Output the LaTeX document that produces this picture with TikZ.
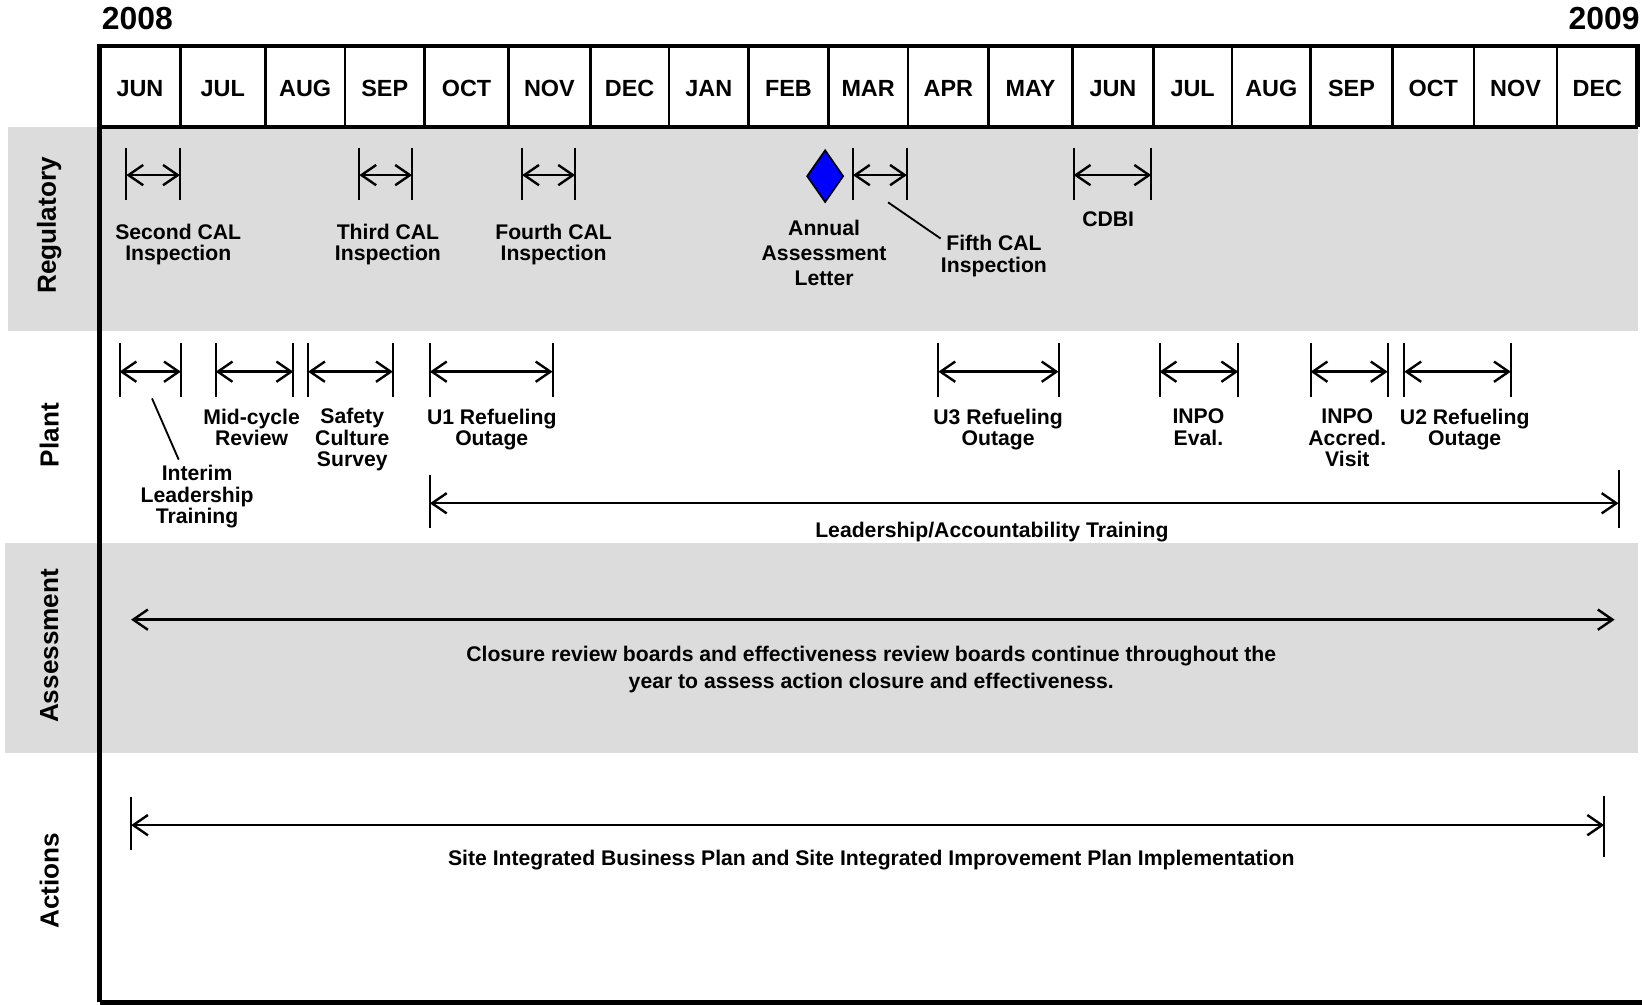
\documentclass[tikz,border=0pt]{standalone}
\usepackage{fontspec}
\setmainfont{Liberation Sans}
\usetikzlibrary{arrows.meta,shapes.geometric}
\definecolor{bandgray}{RGB}{220,220,220}
\definecolor{markblue}{RGB}{0,0,255}

\begin{document}
\begin{tikzpicture}[x=0.02cm,y=-0.02cm,
  year/.style={font=\fontsize{17.3}{18}\selectfont\bfseries},
  month/.style={font=\fontsize{12.7}{13}\selectfont\bfseries},
  side/.style={rotate=90,font=\fontsize{14.2}{15}\selectfont\bfseries},
  lbl/.style={align=center,inner sep=0pt,font=\fontsize{11.5}{11.7}\selectfont\bfseries},
  band/.style={fill=bandgray,draw=none},
  bar/.style={line width=1.1pt},
  span/.style={line width=1.3pt,>={Straight Barb[length=8pt,width=11pt]},<->},
  lead/.style={line width=1pt}]
\useasboundingbox (0,0) rectangle (1568,958);

% bands
\fill[band] (8,121) rectangle (1562,316);
\fill[band] (5,518) rectangle (1562,718);

% frame and months
\draw[line width=2.5pt] (95,956) -- (95,44) -- (1562,44) -- (1562,121);
\draw[line width=2pt] (95,121) -- (1562,121);
\draw[line width=2.5pt] (95,956) -- (1566,956);
\foreach \x in {172,253,329,405,485,563,638,714,790,866,943,1023,1100,1175,1250,1328,1406,1485}
  \draw[line width=1.4pt] (\x,44) -- (\x,121);
\foreach \m/\a/\b [count=\i] in {JUN/95/172, JUL/172/253, AUG/253/329, SEP/329/405,
    OCT/405/485, NOV/485/563, DEC/563/638, JAN/638/714, FEB/714/790, MAR/790/866,
    APR/866/943, MAY/943/1023, JUN/1023/1100, JUL/1100/1175, AUG/1175/1250,
    SEP/1250/1328, OCT/1328/1406, NOV/1406/1485, DEC/1485/1562}
  \node at ({(\a+\b)/2},84) [month] (m\i) {\m};
\node at (131,18) [year] (y1) {2008};
\node at (1530,18) [year] (y2) {2009};

% row titles
\node at (47,215) [side] (reg) {Regulatory};
\node at (47,415) [side] (plant) {Plant};
\node at (47,616) [side] (assess) {Assessment};
\node at (47,840) [side] (act) {Actions};

% regulatory
\foreach \nm/\a/\b in {cal2/120.5/171.6, cal3/342.7/393, cal4/498/548.5, cal5/813.5/865, cdbi/1024/1098} {
  \draw[bar] (\a,141) -- (\a,191) (\b,141) -- (\b,191);
  \coordinate (\nm-l) at (\a,167);
  \coordinate (\nm-r) at (\b,167);
  \draw[span] (\nm-l) -- (\nm-r);
}
\node at (787,168) [diamond,aspect=0.7,draw,fill=markblue,line width=0.9pt,
  minimum width=0.7cm,minimum height=1cm,inner sep=0pt] (aal-mark) {};
\node at (170,233) [lbl] (cal2t) {Second CAL\\Inspection};
\node at (370,233) [lbl] (cal3t) {Third CAL\\Inspection};
\node at (528,233) [lbl] (cal4t) {Fourth CAL\\Inspection};
\node at (786,241) [lbl,font=\fontsize{11.5}{13.6}\selectfont\bfseries] (aalt) {Annual\\Assessment\\Letter};
\node at (948,244) [lbl] (cal5t) {Fifth CAL\\Inspection};
\node at (1057,209) [lbl] (cdbit) {CDBI};
\coordinate (cal5-lead) at (847,193);
\draw[lead] (cal5-lead) -- ([yshift=-2pt]cal5t.north west);

% plant
\foreach \nm/\a/\b in {ilt/114/172.5, mcr/205.7/279.7, scs/293.8/374.7, u1/410/527,
    u3/895/1009.6, eval/1106/1181, accr/1250/1323.5, u2/1339.4/1441} {
  \draw[bar] (\a,327) -- (\a,378.5) (\b,327) -- (\b,378.5);
  \coordinate (\nm-l) at (\a,354.5);
  \coordinate (\nm-r) at (\b,354.5);
  \draw[span] (\nm-l) -- (\nm-r);
}
\node at (240,407.5) [lbl] (mcrt) {Mid-cycle\\Review};
\node at (336,419.5) [lbl] (scst) {Safety\\Culture\\Survey};
\node at (469,409.5) [lbl] (u1t) {U1 Refueling\\Outage};
\node at (952,409.5) [lbl] (u3t) {U3 Refueling\\Outage};
\node at (1143,407.5) [lbl] (evalt) {INPO\\Eval.};
\node at (1285,417.5) [lbl] (accrt) {INPO\\Accred.\\Visit};
\node at (1397,409.5) [lbl] (u2t) {U2 Refueling\\Outage};
\node at (188,474) [lbl] (iltt) {Interim\\Leadership\\Training};
\coordinate (ilt-lead) at (145,380);
\draw[lead] (ilt-lead) -- ([xshift=-10pt,yshift=3pt]iltt.north);
\draw[bar] (410,453) -- (410,504) (1543.7,448) -- (1543.7,504);
\coordinate (lat-l) at (410,480);
\coordinate (lat-r) at (1543.7,480);
\draw[span] (lat-l) -- (lat-r);
\node at (946,507) [lbl] (latt) {Leadership/Accountability Training};

% assessment
\coordinate (crb-l) at (125,591);
\coordinate (crb-r) at (1540,591);
\draw[span] (crb-l) -- (crb-r);
\node at (831,638.5) [lbl,font=\fontsize{11.5}{14.2}\selectfont\bfseries] (crbt)
  {Closure review boards and effectiveness review boards continue throughout the\\year to assess action closure and effectiveness.};

% actions
\draw[bar] (125,760) -- (125,811) (1530,759) -- (1530,817);
\coordinate (sibp-l) at (125,787);
\coordinate (sibp-r) at (1530,787);
\draw[span] (sibp-l) -- (sibp-r);
\node at (831,820) [lbl] (sibpt) {Site Integrated Business Plan and Site Integrated Improvement Plan Implementation};
\end{tikzpicture}
\end{document}
